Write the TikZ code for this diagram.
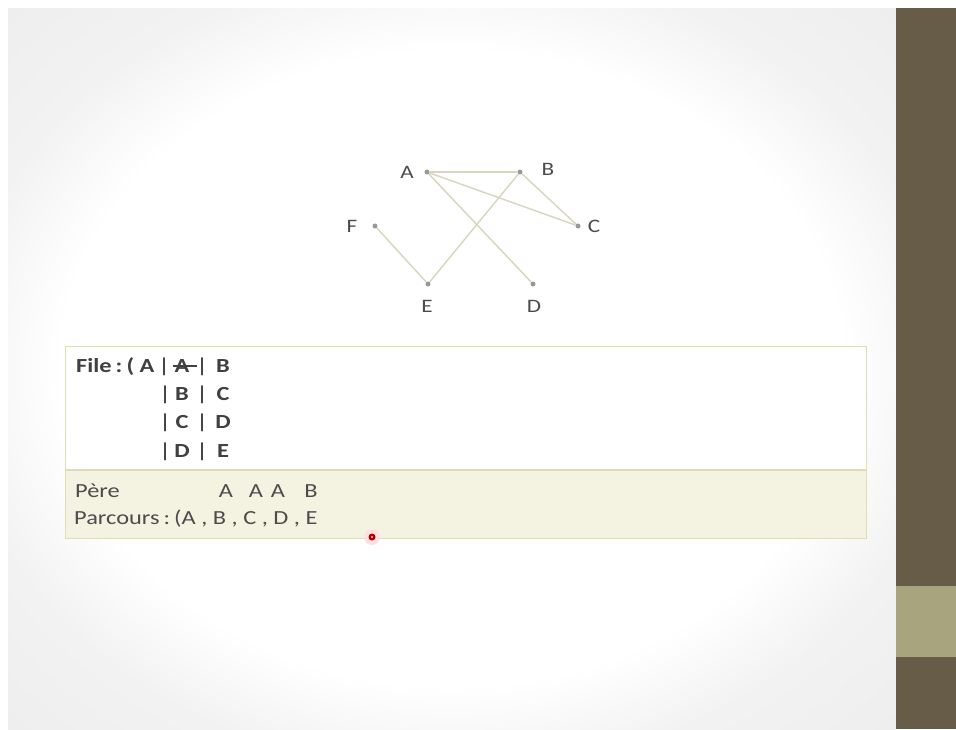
\documentclass[tikz,border=0pt]{standalone}
\usepackage{fontspec}
\setmainfont{Carlito}
\newcommand\wide[1]{\scalebox{1.22}[1]{#1}}
\begin{document}
\pgfdeclareradialshading{vign}{\pgfpoint{0bp}{0bp}}{color(0bp)=(white); color(22bp)=(white); color(28bp)=(black!5); color(50bp)=(black!10)}
\begin{tikzpicture}[x=1pt,y=-1pt,
  dot/.style={circle,fill=black!40,inner sep=0pt,minimum size=5pt},
  lbl/.style={font=\fontsize{19}{20}\selectfont,text=black!70,inner sep=0pt},
  edge/.style={draw=edgecol,line width=1.4pt},
  ftxt/.style={font=\fontsize{20}{22}\selectfont\bfseries,text=black!75,inner sep=0pt,anchor=base west},
  fc/.style={font=\fontsize{20}{22}\selectfont\bfseries,text=black!75,inner sep=0pt,anchor=base},
  ptxt/.style={font=\fontsize{20}{22}\selectfont,text=black!70,inner sep=0pt,anchor=base west},
  pc/.style={font=\fontsize{20}{22}\selectfont,text=black!70,inner sep=0pt,anchor=base}]
\definecolor{edgecol}{HTML}{D8D5BE}
\definecolor{barcol}{HTML}{665C48}
\definecolor{barlight}{HTML}{A8A47E}
\definecolor{boxline}{HTML}{DEDDB4}
\definecolor{boxfill}{HTML}{F4F3E2}
\useasboundingbox (0,0) rectangle (956,729);
\fill[white] (0,0) rectangle (956,729);
\shade[shading=vign] (8,8) rectangle (896,729);
\fill[barcol] (896,8) rectangle (956,729);
\fill[barlight] (896,586) rectangle (956,657);
% graph
\node[dot] (A) at (427,172) {};
\node[dot] (B) at (520,172) {};
\node[dot] (C) at (578,226) {};
\node[dot] (F) at (375,226) {};
\node[dot] (E) at (428,284) {};
\node[dot] (D) at (533,284) {};
\node[lbl] (la) at (407,172) {\wide{A}};
\node[lbl] (lb) at (548,169) {\wide{B}};
\node[lbl] (lc) at (594,226) {\wide{C}};
\node[lbl] (lf) at (352,226) {\wide{F}};
\node[lbl] (le) at (427,306) {\wide{E}};
\node[lbl] (ld) at (534,306) {\wide{D}};
\draw[edge] (A) -- (B);
\draw[edge] (A) -- (C);
\draw[edge] (A) -- (D);
\draw[edge] (B) -- (C);
\draw[edge] (B) -- (E);
\draw[edge] (F) -- (E);
% box
\fill[white] (65,346) rectangle (866,470);
\fill[boxfill] (65,470) rectangle (866,538);
\draw[boxline,line width=1pt] (65,346) rectangle (866,538);
\draw[boxline,line width=1.5pt] (65,470) -- (866,470);
\node[ftxt] (r1a) at (76,372) {\wide{File\,:\,( A}};
\node[fc] (b1a) at (164,372) {|};
\node[fc] (r1b) at (182,372) {\wide{A}};
\draw[black!75,line width=1.3pt] ([xshift=-1pt,yshift=6pt]r1b.base west) -- ([xshift=7pt,yshift=6pt]r1b.base east);
\node[fc] (b1b) at (202,372) {|};
\node[fc] (r1c) at (223,372) {\wide{B}};
\node[fc] (b2a) at (165,400) {|};
\node[fc] (r2b) at (182,400) {\wide{B}};
\node[fc] (b2b) at (202,400) {|};
\node[fc] (r2c) at (223,400) {\wide{C}};
\node[fc] (b3a) at (165,428) {|};
\node[fc] (r3b) at (182,428) {\wide{C}};
\node[fc] (b3b) at (202,428) {|};
\node[fc] (r3c) at (223,428) {\wide{D}};
\node[fc] (b4a) at (165,457) {|};
\node[fc] (r4b) at (182,457) {\wide{D}};
\node[fc] (b4b) at (202,457) {|};
\node[fc] (r4c) at (223,457) {\wide{E}};
\node[ptxt] (p1) at (75,497) {\wide{Père}};
\node[pc] (pa1) at (226,497) {\wide{A}};
\node[pc] (pa2) at (256,497) {\wide{A}};
\node[pc] (pa3) at (278,497) {\wide{A}};
\node[pc] (pb) at (311,497) {\wide{B}};
\node[ptxt] (p3) at (74,524) {\wide{Parcours\,:\,(A , B , C , D , E}};
% pointer
\fill[red!12] (372,537) circle (8);
\fill[red!70!black] (372,537) circle (3.5);
\fill[red!30] (372,537) circle (1.2);
\end{tikzpicture}
\end{document}
